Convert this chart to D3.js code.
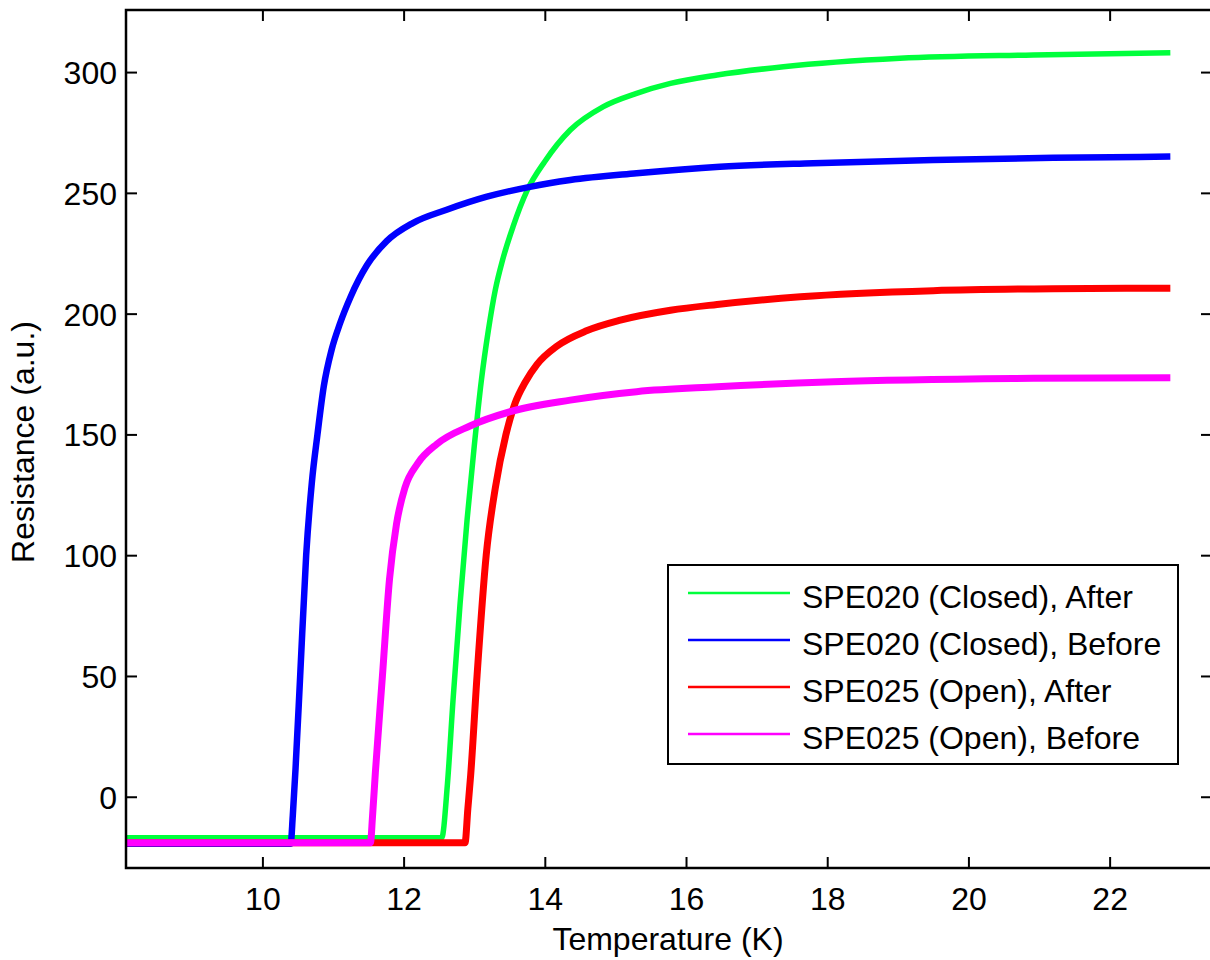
<!DOCTYPE html>
<html>
<head>
<meta charset="utf-8">
<script src="https://cdn.jsdelivr.net/npm/d3@7"></script>
<style>
  html, body { margin: 0; padding: 0; background: #fff; }
  svg { display: block; }
  text { font-family: "Liberation Sans", Arial, sans-serif; fill: #000; }
</style>
</head>
<body>
<svg id="chart" width="1210" height="960"></svg>
<script>
// ---- data ----
const seriesNames = [
  "SPE020 (Closed), After",
  "SPE020 (Closed), Before",
  "SPE025 (Open), After",
  "SPE025 (Open), Before"
];
const seriesColors = ["#00ff3c", "#0000ff", "#ff0000", "#ff00ff"];

const closedAfterT = [8.08, 12.54, 12.62, 12.70, 12.80, 12.90, 13.00, 13.10, 13.20, 13.30, 13.40, 13.55, 13.75, 14.00, 14.36, 14.83, 15.30, 15.78, 16.44, 17.38, 19.03, 20.92, 22.86];
const closedAfterR = [-17, -17, 5, 40, 80, 115, 145, 172, 193, 210, 222, 236, 251, 263, 276, 285.7, 291.2, 295.3, 298.8, 302.2, 305.7, 307.1, 308.0];

const closedBeforeT = [8.08, 10.40, 10.43, 10.47, 10.535, 10.62, 10.70, 10.78, 10.87, 10.98, 11.10, 11.25, 11.48, 11.76, 12.13, 12.61, 13.18, 13.79, 14.36, 15.30, 16.48, 17.80, 19.50, 21.20, 22.86];
const closedBeforeR = [-19.5, -19.5, -8, 12, 50, 100, 130, 150, 170, 185, 196, 207, 220, 230, 237.5, 243, 248.4, 252.5, 255.3, 258.1, 260.8, 262.3, 263.6, 264.5, 265.0];

const openAfterT = [8.08, 12.87, 12.91, 12.95, 13.04, 13.17, 13.30, 13.45, 13.58, 13.72, 13.89, 14.17, 14.60, 15.07, 15.78, 16.44, 17.62, 19.50, 21.20, 22.86];
const openAfterR = [-19, -19, -5, 9, 50, 100, 128, 150, 163, 171.5, 179, 186.5, 193, 197.3, 201.4, 203.8, 207.0, 209.5, 210.3, 210.5];

const openBeforeT = [8.08, 11.53, 11.56, 11.60, 11.70, 11.80, 11.90, 12.02, 12.20, 12.47, 12.94, 13.51, 14.36, 15.30, 16.44, 18.09, 20.92, 22.86];
const openBeforeR = [-19, -19, -8, 10, 50, 90, 113, 128, 138, 146, 153.5, 159.4, 164.2, 167.7, 169.7, 171.8, 173.2, 173.5];

const xTicks = [10, 12, 14, 16, 18, 20, 22];
const yTicks = [0, 50, 100, 150, 200, 250, 300];
const xDomain = [8.068, 23.45];
const yDomain = [-29.5, 325.7];
const xTitle = "Temperature (K)";
const yTitle = "Resistance (a.u.)";

// ---- layout ----
const svg = d3.select("#chart");
const L = 126, R = 1212, T = 10, B = 868;
const x = d3.scaleLinear().domain(xDomain).range([L, R]);
const y = d3.scaleLinear().domain(yDomain).range([B, T]);

const series = [
  { T: closedAfterT, R: closedAfterR, w: 5.5 },
  { T: closedBeforeT, R: closedBeforeR, w: 6.5 },
  { T: openAfterT, R: openAfterR, w: 7 },
  { T: openBeforeT, R: openBeforeR, w: 7 }
].map((s, i) => ({
  name: seriesNames[i],
  color: seriesColors[i],
  w: s.w,
  pts: s.T.map((t, k) => [t, s.R[k]])
}));

svg.append("defs").append("clipPath").attr("id", "plotclip")
  .append("rect").attr("x", L).attr("y", T).attr("width", R - L).attr("height", B - T);

const line = d3.line().x(d => x(d[0])).y(d => y(d[1])).curve(d3.curveMonotoneX);

const g = svg.append("g").attr("clip-path", "url(#plotclip)");
g.selectAll("path.series").data(series).join("path")
  .attr("class", "series")
  .attr("d", d => line(d.pts))
  .attr("fill", "none")
  .attr("stroke", d => d.color)
  .attr("stroke-width", d => d.w)
  .attr("stroke-linejoin", "round")
  .attr("stroke-linecap", "butt");

// ---- axes (ticks inside, box) ----
const tickLen = 11;
const fontSize = 32;

const xAxisB = d3.axisBottom(x).tickValues(xTicks).tickSizeInner(-tickLen).tickSizeOuter(0).tickPadding(0).tickFormat(d3.format("d"));
const xAxisT = d3.axisTop(x).tickValues(xTicks).tickSizeInner(-tickLen).tickSizeOuter(0).tickFormat("");
const yAxisL = d3.axisLeft(y).tickValues(yTicks).tickSizeInner(-tickLen).tickSizeOuter(0).tickFormat(d3.format("d"));
const yAxisR = d3.axisRight(y).tickValues(yTicks).tickSizeInner(-tickLen).tickSizeOuter(0).tickFormat("");

function styleAxis(sel) {
  sel.select(".domain").remove();
  sel.selectAll(".tick line").attr("stroke", "#000").attr("stroke-width", 2);
}

const gxB = svg.append("g").attr("transform", `translate(0,${B})`).call(xAxisB).call(styleAxis);
gxB.selectAll(".tick text")
  .attr("y", 42).attr("dy", 0)
  .attr("font-size", fontSize).attr("fill", "#000")
  .attr("font-family", "Liberation Sans, Arial, sans-serif");

svg.append("g").attr("transform", `translate(0,${T})`).call(xAxisT).call(styleAxis);

const gyL = svg.append("g").attr("transform", `translate(${L},0)`).call(yAxisL).call(styleAxis);
gyL.selectAll(".tick text")
  .attr("x", -9).attr("dy", "0.36em")
  .attr("font-size", fontSize).attr("fill", "#000")
  .attr("font-family", "Liberation Sans, Arial, sans-serif");

svg.append("g").attr("transform", `translate(${R},0)`).call(yAxisR).call(styleAxis);

svg.append("rect")
  .attr("x", L).attr("y", T).attr("width", R - L).attr("height", B - T)
  .attr("fill", "none").attr("stroke", "#000").attr("stroke-width", 2.5);

// ---- titles ----
svg.append("text")
  .attr("x", (L + 1210) / 2).attr("y", 950)
  .attr("text-anchor", "middle").attr("font-size", fontSize)
  .text(xTitle);

svg.append("text")
  .attr("transform", `translate(34,${(T + B) / 2 + 3}) rotate(-90)`)
  .attr("text-anchor", "middle").attr("font-size", fontSize)
  .text(yTitle);

// ---- legend ----
const lg = svg.append("g");
lg.append("rect")
  .attr("x", 668).attr("y", 565).attr("width", 510).attr("height", 199)
  .attr("fill", "#fff").attr("stroke", "#000").attr("stroke-width", 2);
const rowY = i => 593 + i * 47;
const items = lg.selectAll("g.item").data(series).join("g").attr("class", "item");
items.append("line")
  .attr("x1", 688).attr("x2", 790)
  .attr("y1", (d, i) => rowY(i)).attr("y2", (d, i) => rowY(i))
  .attr("stroke", d => d.color).attr("stroke-width", 2.5);
items.append("text")
  .attr("x", 802).attr("y", (d, i) => rowY(i) + 15)
  .attr("font-size", fontSize)
  .text(d => d.name);
</script>
</body>
</html>
